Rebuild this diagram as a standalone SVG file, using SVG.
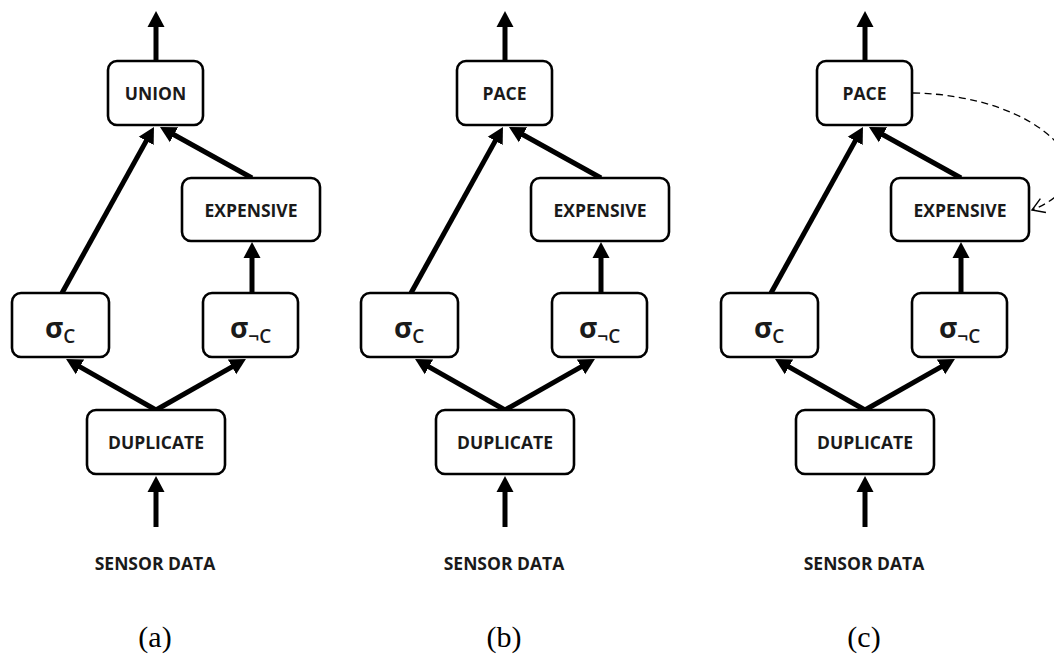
<svg xmlns="http://www.w3.org/2000/svg" width="1054" height="660" viewBox="0 0 1054 660">
<style>
.box{fill:#fff;stroke:#000;stroke-width:2.6}
.lbl{font-family:"Open Sans","Liberation Sans",sans-serif;font-weight:700;font-size:17.5px;fill:#1a1a1a;text-anchor:middle}
.sig{font-family:"Open Sans","Liberation Sans",sans-serif;font-weight:700;font-size:28px;fill:#1a1a1a}
.sub{font-family:"Open Sans","Liberation Sans",sans-serif;font-weight:600;font-size:19px;fill:#1a1a1a}
.cap{font-family:"Liberation Serif","Times New Roman",serif;font-size:30px;fill:#000;text-anchor:middle}
.arr{stroke:#000;stroke-width:5;fill:none;marker-end:url(#head)}
.dash{stroke:#000;stroke-width:1.3;fill:none;stroke-dasharray:7 4.5;marker-end:url(#open)}
</style>
<defs>
<marker id="head" markerUnits="userSpaceOnUse" viewBox="0 -9 16 18" markerWidth="16" markerHeight="18" refX="1" refY="0" orient="auto">
<path d="M0,-8.5 L16,0 L0,8.5 z" fill="#000"/>
</marker>
<marker id="open" markerUnits="userSpaceOnUse" viewBox="-14 -9 16 18" markerWidth="16" markerHeight="18" refX="0" refY="0" orient="auto">
<path d="M-12,-7.5 L0,0 L-12,7.5" fill="none" stroke="#000" stroke-width="1.4"/>
</marker>
</defs>

<g id="panel-a">
<g id="connectors-a">
<line class="arr" x1="156" y1="61" x2="156" y2="26"/>
<line class="arr" x1="62" y1="293" x2="146.7" y2="140.1"/>
<line class="arr" x1="252" y1="178" x2="173.1" y2="134.3"/>
<line class="arr" x1="252" y1="293" x2="252" y2="257"/>
<line class="arr" x1="156" y1="410" x2="79.1" y2="366.4"/>
<line class="arr" x1="156" y1="410" x2="232.9" y2="366.4"/>
<line class="arr" x1="156" y1="527" x2="156" y2="491"/>
</g>
<g id="a-union"><rect class="box" x="108" y="61" width="95" height="64" rx="9"/><text class="lbl" x="155.5" y="100">UNION</text></g>
<g id="a-expensive"><rect class="box" x="182" y="178" width="138" height="63" rx="9"/><text class="lbl" x="251" y="217">EXPENSIVE</text></g>
<g id="a-sigc"><rect class="box" x="12" y="293" width="97" height="64" rx="9"/><text x="45" y="338"><tspan class="sig">σ</tspan><tspan class="sub" dy="5">C</tspan></text></g>
<g id="a-signotc"><rect class="box" x="203" y="293" width="95" height="64" rx="9"/><text x="230" y="338"><tspan class="sig">σ</tspan><tspan class="sub" dy="5">¬C</tspan></text></g>
<g id="a-duplicate"><rect class="box" x="87" y="410" width="138" height="64" rx="9"/><text class="lbl" x="156" y="449">DUPLICATE</text></g>
<g id="a-sensor"><text class="lbl" x="155" y="570">SENSOR DATA</text></g>
<text class="cap" x="155" y="647">(a)</text>
</g>

<g id="panel-b" transform="translate(349,0)">
<g id="connectors-b">
<line class="arr" x1="156" y1="61" x2="156" y2="26"/>
<line class="arr" x1="62" y1="293" x2="146.7" y2="140.1"/>
<line class="arr" x1="252" y1="178" x2="173.1" y2="134.3"/>
<line class="arr" x1="252" y1="293" x2="252" y2="257"/>
<line class="arr" x1="156" y1="410" x2="79.1" y2="366.4"/>
<line class="arr" x1="156" y1="410" x2="232.9" y2="366.4"/>
<line class="arr" x1="156" y1="527" x2="156" y2="491"/>
</g>
<g id="b-pace"><rect class="box" x="108" y="61" width="95" height="64" rx="9"/><text class="lbl" x="155.5" y="100">PACE</text></g>
<g id="b-expensive"><rect class="box" x="182" y="178" width="138" height="63" rx="9"/><text class="lbl" x="251" y="217">EXPENSIVE</text></g>
<g id="b-sigc"><rect class="box" x="12" y="293" width="97" height="64" rx="9"/><text x="45" y="338"><tspan class="sig">σ</tspan><tspan class="sub" dy="5">C</tspan></text></g>
<g id="b-signotc"><rect class="box" x="203" y="293" width="95" height="64" rx="9"/><text x="230" y="338"><tspan class="sig">σ</tspan><tspan class="sub" dy="5">¬C</tspan></text></g>
<g id="b-duplicate"><rect class="box" x="87" y="410" width="138" height="64" rx="9"/><text class="lbl" x="156" y="449">DUPLICATE</text></g>
<g id="b-sensor"><text class="lbl" x="155" y="570">SENSOR DATA</text></g>
<text class="cap" x="155" y="647">(b)</text>
</g>

<g id="panel-c" transform="translate(709,0)">
<g id="connectors-c">
<line class="arr" x1="156" y1="61" x2="156" y2="26"/>
<line class="arr" x1="62" y1="293" x2="146.7" y2="140.1"/>
<line class="arr" x1="252" y1="178" x2="173.1" y2="134.3"/>
<line class="arr" x1="252" y1="293" x2="252" y2="257"/>
<line class="arr" x1="156" y1="410" x2="79.1" y2="366.4"/>
<line class="arr" x1="156" y1="410" x2="232.9" y2="366.4"/>
<line class="arr" x1="156" y1="527" x2="156" y2="491"/>
<path class="dash" d="M 204 93 C 331 95, 411 175, 323 210"/>
</g>
<g id="c-pace"><rect class="box" x="108" y="61" width="95" height="64" rx="9"/><text class="lbl" x="155.5" y="100">PACE</text></g>
<g id="c-expensive"><rect class="box" x="182" y="178" width="138" height="63" rx="9"/><text class="lbl" x="251" y="217">EXPENSIVE</text></g>
<g id="c-sigc"><rect class="box" x="12" y="293" width="97" height="64" rx="9"/><text x="45" y="338"><tspan class="sig">σ</tspan><tspan class="sub" dy="5">C</tspan></text></g>
<g id="c-signotc"><rect class="box" x="203" y="293" width="95" height="64" rx="9"/><text x="230" y="338"><tspan class="sig">σ</tspan><tspan class="sub" dy="5">¬C</tspan></text></g>
<g id="c-duplicate"><rect class="box" x="87" y="410" width="138" height="64" rx="9"/><text class="lbl" x="156" y="449">DUPLICATE</text></g>
<g id="c-sensor"><text class="lbl" x="155" y="570">SENSOR DATA</text></g>
<text class="cap" x="155" y="647">(c)</text>
</g>
</svg>
